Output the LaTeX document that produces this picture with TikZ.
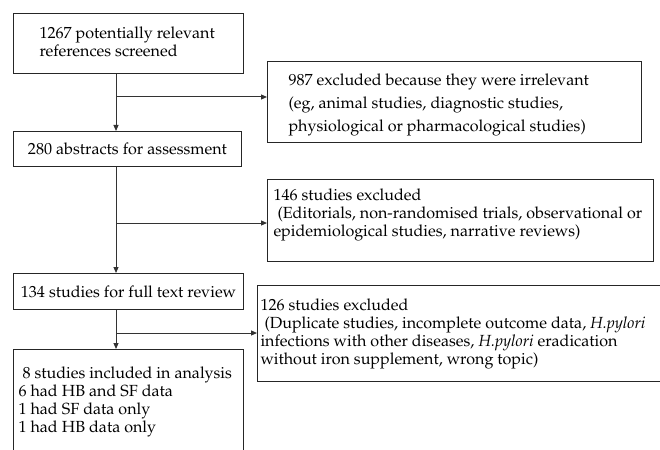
\documentclass[tikz,border=0pt]{standalone}
\usepackage[T1]{fontenc}
\usepackage{mathpazo}
\usetikzlibrary{arrows.meta}
\newcommand\bt[5]{\begin{minipage}[c][#2][t]{#1}\vspace*{\dimexpr#3-12.6pt\relax}\raggedright\leftskip=#4\relax\rightskip=0pt plus 100pt\parindent=0pt\strut #5\end{minipage}}
\newcommand\bc[4]{\begin{minipage}[c][#2][t]{#1}\vspace*{\dimexpr#3-12.6pt\relax}\centering\strut #4\end{minipage}}
\begin{document}
\begin{tikzpicture}[x=1pt,y=-1pt,
  box/.style={draw=black!85,line width=1pt,inner sep=0pt,anchor=north west,font=\fontsize{16.1}{18}\selectfont},
  arr/.style={draw=black!80,line width=1pt,-{Triangle[length=6pt,width=5pt]}},
  ln/.style={draw=black!80,line width=1pt}]
\useasboundingbox (0,0) rectangle (660,449);
\node[box] (b1) at (13,13) {\bt{230pt}{60pt}{25pt}{26pt}{1267 potentially relevant\\references screened}};
\node[box] (b2) at (13,131) {\bc{228pt}{35pt}{23pt}{280 abstracts for assessment}};
\node[box] (b987) at (267,61) {\bt{374pt}{81pt}{24pt}{21pt}{\baselineskip=23pt 987 excluded because they were irrelevant\\(eg, animal studies, diagnostic studies,\\physiological or pharmacological studies)}};
\node[box] (b146) at (267,179) {\bt{386pt}{82pt}{21pt}{6pt}{146 studies excluded\\\ (Editorials, non-randomised trials, observational or\\epidemiological studies, narrative reviews)}};
\node[box] (b134) at (13,273) {\bc{230pt}{36pt}{24pt}{134 studies for full text review}};
\node[box] (b126) at (257,285) {\bt{420pt}{96pt}{25pt}{3pt}{126 studies excluded\\\ (Duplicate studies, incomplete outcome data, \textit{H.pylori}\\infections with other diseases, \textit{H.pylori} eradication\\without iron supplement, wrong topic)}};
\node[box] (b8) at (13,349) {\bt{230pt}{120pt}{29pt}{5pt}{\ 8 studies included in analysis\\6 had HB and SF data\\1 had SF data only\\1 had HB data only}};
\coordinate (j1) at (116,97);
\coordinate (j2) at (116,223);
\coordinate (j3) at (116,333);
\draw[arr] (b1.south -| j1) -- (b2.north -| j1);
\draw[arr] (j1) -- (j1 -| b987.west);
\draw[arr] (b2.south -| j2) -- (b134.north -| j2);
\draw[arr] (j2) -- (j2 -| b146.west);
\draw[arr] (b134.south -| j3) -- (b8.north -| j3);
\draw[arr] (j3) -- (j3 -| b126.west);
\end{tikzpicture}
\end{document}
